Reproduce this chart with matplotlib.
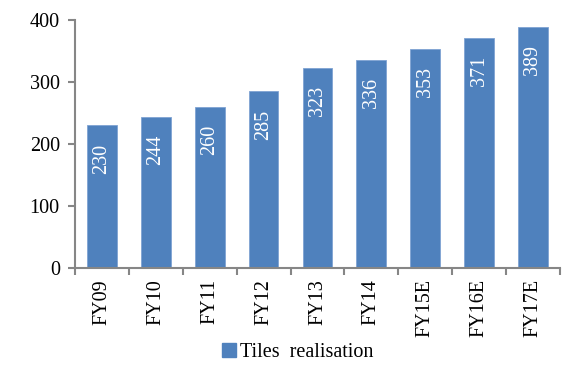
import numpy as np
import matplotlib.pyplot as plt
from matplotlib.patches import Patch

plt.rcParams['font.family'] = ['Liberation Serif', 'DejaVu Serif']

years = ['FY09', 'FY10', 'FY11', 'FY12', 'FY13', 'FY14', 'FY15E', 'FY16E', 'FY17E']
realisation = [230, 244, 260, 285, 323, 336, 353, 371, 389]

bar_color = '#4F81BD'
axis_gray = '#868686'

fig = plt.figure(figsize=(5.73, 3.66), dpi=100)
ax = fig.add_axes([0.131, 0.268, 0.846, 0.677])

x = np.arange(len(years))
bars = ax.bar(x, realisation, width=0.55, color=bar_color, edgecolor='#7FA3D3', linewidth=0.6)

# value labels, rotated, near the top inside each bar
for xi, v in zip(x, realisation):
    ax.annotate(str(v), (xi, v), xytext=(0, -13), textcoords='offset points',
                rotation=90, ha='center', va='top', color='white', fontsize=14.5)

ax.set_xlim(-0.5, len(years) - 0.5)
ax.set_ylim(0, 400)
ax.set_yticks(range(0, 401, 100))
ax.tick_params(axis='y', labelsize=14.5, length=5, color=axis_gray, width=1.5, pad=6)

ax.set_xticks(x)
ax.set_xticklabels(years, rotation=90, fontsize=14.5)
ax.tick_params(axis='x', which='major', length=0, pad=8)
ax.set_xticks(np.arange(-0.5, len(years), 1), minor=True)
ax.tick_params(axis='x', which='minor', length=5, color=axis_gray, width=1.5)

for side in ['top', 'right']:
    ax.spines[side].set_visible(False)
for side in ['left', 'bottom']:
    ax.spines[side].set_color(axis_gray)
    ax.spines[side].set_linewidth(1.5)

handle = Patch(facecolor=bar_color, edgecolor=bar_color)
fig.legend([handle], ['Tiles  realisation'], loc='center', bbox_to_anchor=(0.52, 0.038),
           frameon=False, fontsize=14.5, handlelength=0.7, handleheight=0.7, handletextpad=0.2)

fig.savefig('out.png', dpi=100)
